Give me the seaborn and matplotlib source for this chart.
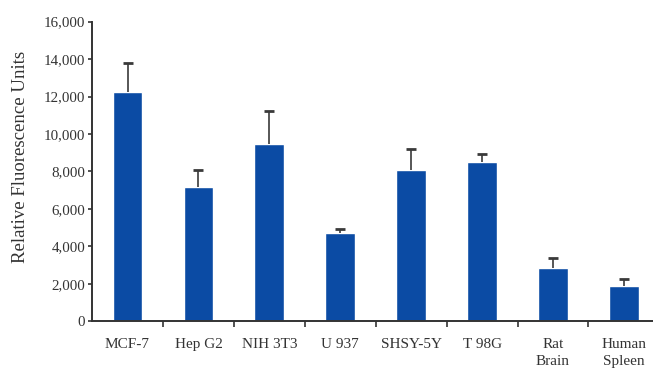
import matplotlib
matplotlib.use("Agg")
import matplotlib.pyplot as plt
import numpy as np
import pandas as pd
import seaborn as sns

categories = ["MCF-7", "Hep G2", "NIH 3T3", "U 937", "SHSY-5Y", "T 98G", "Rat\nBrain", "Human\nSpleen"]
means = [12260, 7180, 9450, 4730, 8080, 8490, 2830, 1880]
upper = [13810, 8080, 11230, 4940, 9180, 8930, 3360, 2260]
yticks = [0, 2000, 4000, 6000, 8000, 10000, 12000, 14000, 16000]

sns.set_theme(style="ticks")
plt.rcParams["font.family"] = ["Liberation Serif", "DejaVu Serif"]

df = pd.DataFrame({"cell": categories, "rfu": means})

fig = plt.figure(figsize=(6.53, 3.70), dpi=100)
ax = fig.add_axes([0.141, 0.1316, 0.859, 0.8098])

sns.barplot(data=df, x="cell", y="rfu", color="#0b4ba4", saturation=1,
            width=0.42, ax=ax, errorbar=None)

# one-sided (upper) error bars
xpos = np.arange(len(categories))
err_up = np.array(upper) - np.array(means)
_, caps, _ = ax.errorbar(xpos, means, yerr=[np.zeros_like(err_up), err_up], fmt="none",
                         ecolor="#3a3a3a", elinewidth=1.2, capsize=3.3, capthick=2, zorder=3)
caps[0].set_visible(False)

ax.set_xlim(-0.5, 7.41)
ax.set_ylim(0, 16000)
ax.set_yticks(yticks)
ax.set_yticklabels([f"{v:,}" for v in yticks], fontsize=10.8, color="#333333")
ax.set_xticks(xpos)
ax.set_xticklabels(categories, fontsize=11, color="#333333", linespacing=1.4)
ax.set_xticks(np.arange(0.5, len(categories) - 0.5), minor=True)
ax.tick_params(axis="x", which="major", length=0, pad=12)
ax.tick_params(axis="x", which="minor", length=4, width=1.2, color="#333333", direction="out")
ax.tick_params(axis="y", length=3, width=1.2, color="#333333", pad=2)
for lab in ax.get_xticklabels():
    lab.set_verticalalignment("top")

ax.set_xlabel("")
ax.set_ylabel("Relative Fluorescence Units", fontsize=13.5, color="#333333")
ax.yaxis.set_label_coords(-0.112, 0.55)
for side in ("top", "right"):
    ax.spines[side].set_visible(False)
for side in ("left", "bottom"):
    ax.spines[side].set_linewidth(1.4)
    ax.spines[side].set_color("#333333")

fig.savefig("out.png", dpi=100)
